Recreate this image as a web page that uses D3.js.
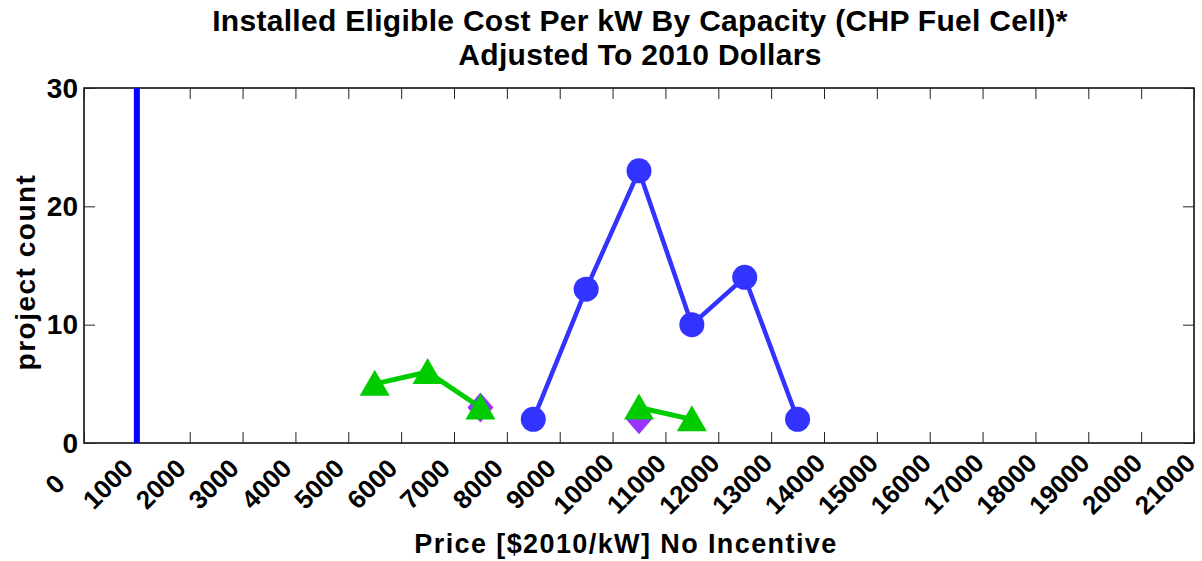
<!DOCTYPE html>
<html>
<head>
<meta charset="utf-8">
<script src="https://cdn.jsdelivr.net/npm/d3@7"></script>
<style>
  html, body { margin: 0; padding: 0; background: #fff; }
  text { font-family: "Liberation Sans", Arial, sans-serif; font-weight: bold; fill: #000; }
</style>
</head>
<body>
<script>
// ---- data ----
const priceBins = [5500, 6500, 7500, 8500, 9500, 10500, 11500, 12500, 13500];
const blueCounts = [null, null, null, 2, 13, 23, 10, 14, 2];
const greenCounts = [5, 6, 3, null, null, 3, 2, null, null];
const purpleCounts = [null, null, 3, null, null, 2, null, null, null];
const refLinePrice = [1000];
const xTicks = d3.range(0, 21001, 1000);
const yTicks = [0, 10, 20, 30];
const titleLines = ["Installed Eligible Cost Per kW By Capacity (CHP Fuel Cell)*", "Adjusted To 2010 Dollars"];
const xLabel = "Price [$2010/kW] No Incentive";
const yLabel = "project count";

// ---- layout ----
const W = 1202, H = 561;
const L = 84, R = 1194, T = 88, B = 443;

const svg = d3.select("body").append("svg").attr("width", W).attr("height", H);

const x = d3.scaleLinear().domain([0, 21000]).range([L, R]);
const y = d3.scaleLinear().domain([0, 30]).range([B, T]);

// axes box
svg.append("rect").attr("x", L).attr("y", T).attr("width", R - L).attr("height", B - T)
  .attr("fill", "none").attr("stroke", "#000").attr("stroke-width", 1.5);

// ticks (inward, all four sides)
const tl = 11;
const axB = svg.append("g").attr("transform", `translate(0,${B})`)
  .call(d3.axisBottom(x).tickValues(xTicks).tickSize(-tl).tickFormat(""));
const axT = svg.append("g").attr("transform", `translate(0,${T})`)
  .call(d3.axisTop(x).tickValues(xTicks).tickSize(-tl).tickFormat(""));
const axL = svg.append("g").attr("transform", `translate(${L},0)`)
  .call(d3.axisLeft(y).tickValues(yTicks).tickSize(-tl).tickFormat(""));
const axR = svg.append("g").attr("transform", `translate(${R},0)`)
  .call(d3.axisRight(y).tickValues(yTicks).tickSize(-tl).tickFormat(""));
[axB, axT, axL, axR].forEach(a => {
  a.select(".domain").remove();
  a.selectAll(".tick line").attr("stroke", "#222").attr("stroke-width", 1);
});

// x tick labels (rotated)
svg.append("g").selectAll("text").data(xTicks).join("text")
  .attr("transform", d => `translate(${x(d) - 29},484) rotate(-45)`)
  .attr("text-anchor", "middle").attr("dominant-baseline", "central")
  .style("font-size", "26px").text(d => d);

// y tick labels
svg.append("g").selectAll("text").data(yTicks).join("text")
  .attr("x", 78).attr("y", d => y(d))
  .attr("text-anchor", "end").attr("dominant-baseline", "central")
  .style("font-size", "28px").text(d => d);

// titles
svg.append("g").selectAll("text").data(titleLines).join("text")
  .attr("x", 640).attr("y", (d, i) => 31 + i * 34)
  .attr("text-anchor", "middle").style("font-size", "30px")
  .style("letter-spacing", "0.3px").text(d => d);

svg.append("text").attr("x", 626).attr("y", 553).attr("text-anchor", "middle")
  .style("font-size", "27px").style("letter-spacing", "1.4px").text(xLabel);

svg.append("text").attr("transform", `translate(35,272) rotate(-90)`)
  .attr("text-anchor", "middle").style("font-size", "28px")
  .style("letter-spacing", "1.5px").text(yLabel);

// reference vertical line
svg.append("g").selectAll("line").data(refLinePrice).join("line")
  .attr("x1", d => x(d)).attr("x2", d => x(d)).attr("y1", y(0)).attr("y2", y(30))
  .attr("stroke", "#0000ff").attr("stroke-width", 6);

// series
function drawSeries(vals, color, lw, symbolPath) {
  const pts = priceBins.map((p, i) => ({ p, v: vals[i] }));
  const line = d3.line().defined(d => d.v !== null).x(d => x(d.p)).y(d => y(d.v));
  svg.append("path").datum(pts).attr("d", line)
    .attr("fill", "none").attr("stroke", color).attr("stroke-width", lw)
    .attr("stroke-linejoin", "miter");
  svg.append("g").selectAll("path").data(pts.filter(d => d.v !== null)).join("path")
    .attr("transform", d => `translate(${x(d.p)},${y(d.v)})`)
    .attr("d", symbolPath)
    .attr("fill", color);
}

const circle = d3.symbol().type(d3.symbolCircle).size(Math.PI * 12.5 * 12.5)();
const tri = "M0,-14 L15,12 L-15,12 Z";
const diamond = "M0,-15 L13,0 L0,15 L-13,0 Z";

drawSeries(blueCounts, "#3333ff", 4.5, circle);
drawSeries(purpleCounts, "#9933ff", 4.5, diamond);
drawSeries(greenCounts, "#00cc00", 5, tri);
</script>
</body>
</html>
